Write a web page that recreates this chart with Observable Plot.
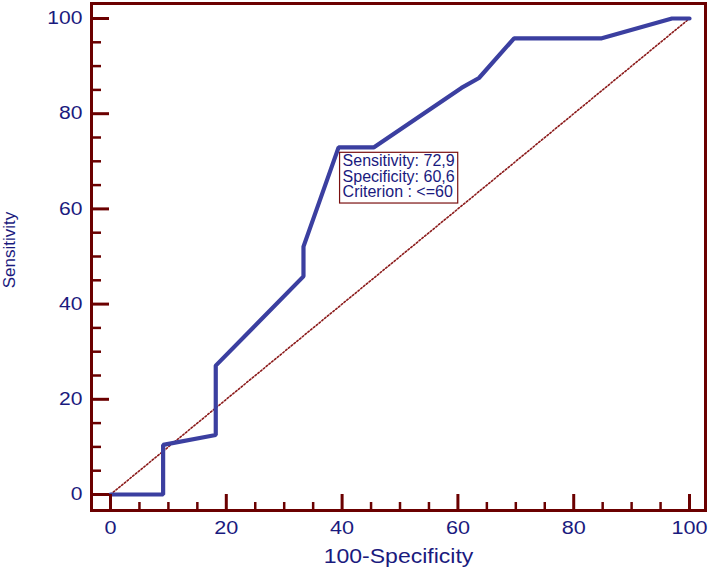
<!DOCTYPE html>
<html>
<head>
<meta charset="utf-8">
<script src="https://cdn.jsdelivr.net/npm/d3@7"></script>
<script src="https://cdn.jsdelivr.net/npm/@observablehq/plot@0.6"></script>
<style>
  html, body { margin: 0; padding: 0; background: #fff; }
</style>
</head>
<body>
<div id="chart"></div>
<script>
// ROC curve: 100-Specificity (x) vs Sensitivity (y)
const fpr  = [0, 9.09, 9.09, 18.18, 18.18, 33.33, 33.33, 39.39, 45.45, 60.61, 63.64, 69.70, 84.85, 96.97, 100];
const sens = [0, 0, 10.42, 12.5, 27.08, 45.83, 52.08, 72.92, 72.92, 85.42, 87.5, 95.83, 95.83, 100, 100];
const diagonal = [0, 100];
const majorTicks = [0, 20, 40, 60, 80, 100];
const minorTicks = [5, 10, 15, 25, 30, 35, 45, 50, 55, 65, 70, 75, 85, 90, 95];
const cutoffX = 39.39;
const cutoffY = 72.92;
const noteLines = ["Sensitivity: 72,9", "Specificity: 60,6", "Criterion : <=60"];
const xLabel = "100-Specificity";
const yLabel = "Sensitivity";

const maroon = "#6b0000";
const navy = "#1a1a7e";
const blue = "#3b3fa0";

const curve = fpr.map((x, i) => ({x, y: sens[i]}));
const diag = diagonal.map(v => ({x: v, y: v}));

const chart = Plot.plot({
  width: 709,
  height: 570,
  marginLeft: 91,
  marginRight: 4,
  marginTop: 3,
  marginBottom: 60,
  style: {fontFamily: "'Liberation Sans', Arial, sans-serif", background: "#fff"},
  x: {domain: [-3.28, 102.76], axis: null},
  y: {domain: [-3.36, 103.15], axis: null},
  marks: [
    // diagonal reference
    Plot.line(diag, {x: "x", y: "y", stroke: "#8b1a1a", strokeWidth: 1.6, strokeDasharray: "1.6,2"}),
    // ROC curve
    Plot.line(curve, {x: "x", y: "y", stroke: blue, strokeWidth: 4.2, strokeLinejoin: "miter"}),
    // y ticks (inward)
    Plot.axisY(majorTicks, {anchor: "left", tickSize: 18, dx: 18, stroke: maroon, strokeWidth: 3, fill: "none", label: null}),
    Plot.axisY(minorTicks, {anchor: "left", tickSize: 10, dx: 10, stroke: maroon, strokeWidth: 2.5, fill: "none", label: null}),
    Plot.axisY(majorTicks, {anchor: "left", tickSize: 0, tickPadding: 9, stroke: "none", fill: navy, fontSize: 18, label: null}),
    // x ticks (inward)
    Plot.axisX(majorTicks, {anchor: "bottom", tickSize: 16, dy: -16, stroke: maroon, strokeWidth: 3, fill: "none", label: null}),
    Plot.axisX(minorTicks, {anchor: "bottom", tickSize: 8, dy: -8, stroke: maroon, strokeWidth: 2.5, fill: "none", label: null}),
    Plot.axisX(majorTicks, {anchor: "bottom", tickSize: 0, tickPadding: 11, stroke: "none", fill: navy, fontSize: 18, label: null}),
    // frame
    Plot.frame({stroke: maroon, strokeWidth: 3}),
    // axis labels
    Plot.text([xLabel], {frameAnchor: "bottom", text: d => d, lineAnchor: "top", textAnchor: "middle", dy: 38, fontSize: 20, fill: navy}),
    Plot.text([yLabel], {frameAnchor: "left", text: d => d, rotate: -90, textAnchor: "middle", lineAnchor: "middle", dx: -82, dy: -7, fontSize: 17, fill: navy}),
    // criterion note
    Plot.text([{x: cutoffX, y: cutoffY, text: noteLines.join("\n")}], {
      x: "x", y: "y", text: "text", textAnchor: "start", lineAnchor: "top",
      dx: 4, dy: 8, fontSize: 16, lineHeight: 0.96, fill: navy
    })
  ]
});

document.getElementById("chart").append(chart);

// widen lettering to match the horizontally stretched reference
function stretchEl(t, k) {
  const w = t.getComputedTextLength();
  if (w > 0) {
    t.setAttribute("textLength", w * k);
    t.setAttribute("lengthAdjust", "spacingAndGlyphs");
  }
}
function stretch(selector, k) {
  chart.querySelectorAll(selector).forEach(t => stretchEl(t, k));
}
stretch('g[aria-label="x-axis tick label"] text', 1.2);
stretch('g[aria-label="y-axis tick label"] text', 1.17);

const texts = Array.from(chart.querySelectorAll("text"));
const xLabelEl = texts.find(t => t.textContent === xLabel);
if (xLabelEl) stretchEl(xLabelEl, 1.15);

// box around the note
const noteEl = texts.find(t => t.textContent.includes("Sensitivity:"));
if (noteEl) {
  const g = noteEl.parentNode;
  const bb = noteEl.getBBox();
  const r = document.createElementNS("http://www.w3.org/2000/svg", "rect");
  r.setAttribute("x", bb.x - 3);
  r.setAttribute("y", bb.y);
  r.setAttribute("width", bb.width + 6);
  r.setAttribute("height", bb.height + 3);
  r.setAttribute("fill", "#fff");
  r.setAttribute("stroke", "#7a1010");
  r.setAttribute("stroke-width", 1.2);
  const tr = noteEl.getAttribute("transform");
  if (tr) r.setAttribute("transform", tr);
  g.insertBefore(r, noteEl);
}
</script>
</body>
</html>
